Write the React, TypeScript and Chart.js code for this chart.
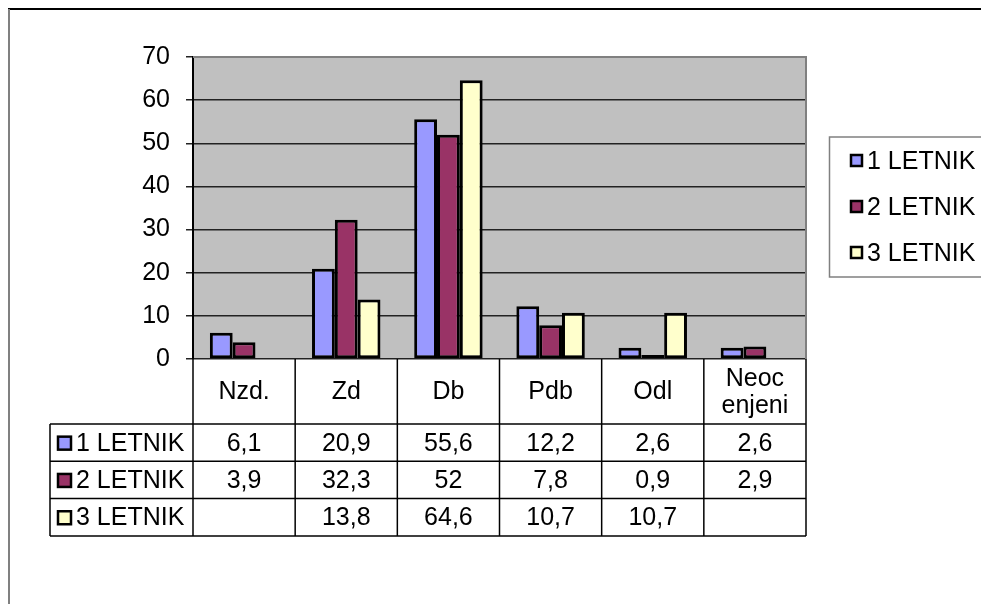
import React, { useEffect, useRef } from 'react';
import { Chart, registerables } from 'chart.js';

Chart.register(...registerables);

const categories: (string | string[])[] = ['Nzd.', 'Zd', 'Db', 'Pdb', 'Odl', ['Neoc', 'enjeni']];
const seriesNames = ['1 LETNIK', '2 LETNIK', '3 LETNIK'];
const series1 = [6.1, 20.9, 55.6, 12.2, 2.6, 2.6];
const series2 = [3.9, 32.3, 52, 7.8, 0.9, 2.9];
const series3 = [null, 13.8, 64.6, 10.7, 10.7, null];
const seriesColors = ['#9999FF', '#993366', '#FFFFCC'];
const yMin = 0;
const yMax = 70;
const yStep = 10;

const FONT = '"Liberation Sans", Arial, sans-serif';
const FS = 25;

const fmt = (v: number | null) => (v === null || v === undefined ? '' : String(v).replace('.', ','));

const tablePlugin = {
  id: 'tablePlugin',
  beforeDraw(chart: any) {
    const { ctx, chartArea } = chart;
    ctx.save();
    ctx.fillStyle = '#fff';
    ctx.fillRect(0, 0, chart.width, chart.height);
    // outer frame
    ctx.strokeStyle = '#000';
    ctx.lineWidth = 2;
    ctx.beginPath();
    ctx.moveTo(8, 9);
    ctx.lineTo(chart.width, 9);
    ctx.stroke();
    ctx.strokeStyle = '#808080';
    ctx.beginPath();
    ctx.moveTo(9, 9);
    ctx.lineTo(9, chart.height);
    ctx.stroke();
    // plot background
    ctx.fillStyle = '#C0C0C0';
    ctx.fillRect(chartArea.left, chartArea.top, chartArea.right - chartArea.left, chartArea.bottom - chartArea.top);
    ctx.restore();
  },
  afterDraw(chart: any) {
    const { ctx, chartArea } = chart;
    const xs = chart.scales.x;
    const n = categories.length;
    const cw = (chartArea.right - chartArea.left) / n;
    const datasets = chart.data.datasets;
    ctx.save();
    // plot border (top, right)
    ctx.strokeStyle = '#808080';
    ctx.lineWidth = 2;
    ctx.beginPath();
    ctx.moveTo(chartArea.left, chartArea.top);
    ctx.lineTo(chartArea.right, chartArea.top);
    ctx.lineTo(chartArea.right, chartArea.bottom);
    ctx.stroke();

    const top = chartArea.bottom;
    const headerH = 65;
    const rowH = 37.3;
    const tableLeft = 50;
    const rowsTop = top + headerH;
    const bottom = rowsTop + rowH * datasets.length;

    ctx.strokeStyle = '#000';
    ctx.lineWidth = 1.5;
    // vertical lines
    for (let i = 0; i <= n; i++) {
      const x = i < n ? xs.getPixelForValue(i) - cw / 2 : xs.getPixelForValue(n - 1) + cw / 2;
      ctx.beginPath();
      ctx.moveTo(x, top);
      ctx.lineTo(x, bottom);
      ctx.stroke();
    }
    ctx.beginPath();
    ctx.moveTo(tableLeft, rowsTop);
    ctx.lineTo(tableLeft, bottom);
    ctx.stroke();
    for (let r = 0; r <= datasets.length; r++) {
      const y = rowsTop + r * rowH;
      ctx.beginPath();
      ctx.moveTo(tableLeft, y);
      ctx.lineTo(chartArea.right, y);
      ctx.stroke();
    }

    ctx.fillStyle = '#000';
    ctx.font = `${FS}px ${FONT}`;
    ctx.textAlign = 'center';
    ctx.textBaseline = 'middle';
    // header labels
    categories.forEach((c, i) => {
      const x = xs.getPixelForValue(i);
      const lines = Array.isArray(c) ? c : [c];
      const lh = 27;
      const cy = top + headerH / 2 + 1;
      lines.forEach((ln, k) => {
        ctx.fillText(ln, x, cy + (k - (lines.length - 1) / 2) * lh);
      });
    });
    // rows
    datasets.forEach((ds: any, r: number) => {
      const cy = rowsTop + r * rowH + rowH / 2 + 1;
      ds.data.forEach((v: number | null, i: number) => {
        ctx.textAlign = 'center';
        ctx.fillText(fmt(v), xs.getPixelForValue(i), cy);
      });
      // legend key
      ctx.fillStyle = ds.backgroundColor;
      ctx.fillRect(58, cy - 7, 13, 13);
      ctx.strokeStyle = '#000';
      ctx.lineWidth = 2.5;
      ctx.strokeRect(58, cy - 7, 13, 13);
      ctx.fillStyle = '#000';
      ctx.textAlign = 'left';
      ctx.fillText(ds.label, 76, cy);
    });

    // right legend
    ctx.strokeStyle = '#808080';
    ctx.lineWidth = 1.5;
    ctx.beginPath();
    ctx.moveTo(chart.width + 2, 137);
    ctx.lineTo(829.5, 137);
    ctx.lineTo(829.5, 277);
    ctx.lineTo(chart.width + 2, 277);
    ctx.stroke();
    datasets.forEach((ds: any, r: number) => {
      const cy = 161 + r * 46;
      ctx.fillStyle = ds.backgroundColor;
      ctx.fillRect(851, cy - 6, 11, 11);
      ctx.strokeStyle = '#000';
      ctx.lineWidth = 2.5;
      ctx.strokeRect(851, cy - 6, 11, 11);
      ctx.fillStyle = '#000';
      ctx.textAlign = 'left';
      ctx.fillText(ds.label, 867, cy + 1);
    });
    ctx.restore();
  },
};

export default function App() {
  const ref = useRef<HTMLCanvasElement>(null);
  useEffect(() => {
    if (!ref.current) return;
    const seriesValues = [series1, series2, series3];
    const chart = new Chart(ref.current, {
      type: 'bar',
      data: {
        labels: categories as any,
        datasets: seriesNames.map((name, i) => ({
          label: name,
          data: seriesValues[i] as any,
          backgroundColor: seriesColors[i],
          borderColor: '#000',
          borderWidth: 3,
          borderSkipped: false,
          categoryPercentage: 0.67,
          barPercentage: 1,
        })),
      },
      options: {
        responsive: false,
        animation: false,
        devicePixelRatio: 1,
        layout: { padding: { top: 57, right: 175, bottom: 245, left: 0 } },
        plugins: { legend: { display: false }, tooltip: { enabled: false } },
        scales: {
          x: { display: false },
          y: {
            min: yMin,
            max: yMax,
            ticks: { stepSize: yStep, color: '#000', padding: 16, font: { family: FONT, size: FS } },
            grid: { color: '#222', lineWidth: 1.5, tickLength: 7, drawTicks: true },
            border: { color: '#000', width: 2 },
            afterFit: (s: any) => {
              s.width = 193;
            },
          },
        },
      },
      plugins: [tablePlugin],
    });
    return () => chart.destroy();
  }, []);
  return (
    <div style={{ position: 'fixed', left: 0, top: 0, width: 981, height: 604, overflow: 'hidden' }}>
      <canvas ref={ref} width={981} height={604} style={{ display: 'block', width: 981, height: 604 }} />
    </div>
  );
}
